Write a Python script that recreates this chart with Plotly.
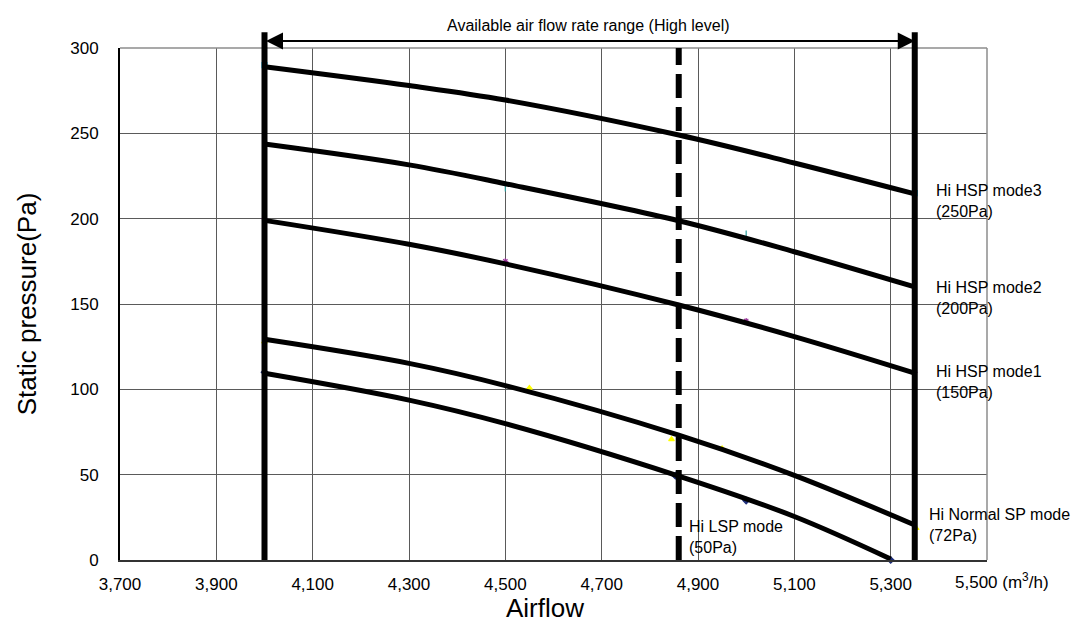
import plotly.graph_objects as go

# Fan curves: airflow (m3/h) vs external static pressure (Pa)
mode3_x = [4000, 4300, 4500, 4860, 5100, 5350]
mode3_y = [289, 278, 269.5, 249, 232.6, 214.5]

mode2_x = [4000, 4300, 4500, 4860, 5100, 5350]
mode2_y = [243.7, 231.5, 220.5, 198.8, 180.6, 160]

mode1_x = [4000, 4300, 4500, 4860, 5100, 5350]
mode1_y = [199, 185, 173.5, 149.4, 130.9, 109.5]

normal_x = [4000, 4300, 4500, 4860, 5100, 5350]
normal_y = [129.3, 115.2, 102.2, 73.2, 49.6, 20.5]

lsp_x = [4000, 4300, 4500, 4860, 5100, 5300]
lsp_y = [109.4, 93.7, 79.9, 49.2, 25.5, 0.6]

# Measured points
mode3_pts_x = [4000, 5350]
mode3_pts_y = [290, 215]
mode2_pts_x = [4000, 4500, 4860, 5000, 5350]
mode2_pts_y = [245, 218, 200, 191, 160]
mode1_pts_x = [4000, 4500, 4860, 5000, 5350]
mode1_pts_y = [200, 175, 149, 140, 110]
normal_pts_x = [4000, 4550, 4845, 4950, 5353]
normal_pts_y = [128, 100.8, 70.7, 65.4, 18.6]
lsp_pts_x = [4000, 4853, 5000, 5300]
lsp_pts_y = [110, 49.4, 34.8, 0]

# Operating range and reference airflow
range_min, range_max = 4000, 5350
ref_airflow = 4860

x_ticks = [3700, 3900, 4100, 4300, 4500, 4700, 4900, 5100, 5300, 5500]
x_tick_text = ["3,700", "3,900", "4,100", "4,300", "4,500", "4,700", "4,900", "5,100", "5,300", ""]
last_tick_text = "5,500 (m<sup>3</sup>/h)"
y_ticks = [0, 50, 100, 150, 200, 250, 300]

curve_labels = [
    ("Hi HSP mode3<br>(250Pa)", 5389, 210.5),
    ("Hi HSP mode2<br>(200Pa)", 5389, 153.8),
    ("Hi HSP mode1<br>(150Pa)", 5389, 104.3),
    ("Hi Normal SP mode<br>(72Pa)", 5376, 20.5),
    ("Hi LSP mode<br>(50Pa)", 4878, 13.5),
]

FONT = "Liberation Sans, Arial, sans-serif"

fig = go.Figure()

# point markers (under the curves)
pts = [
    (mode3_pts_x, mode3_pts_y, "#33CCFF", "square"),
    (mode2_pts_x, mode2_pts_y, "#2A9D9D", "line-ns"),
    (mode1_pts_x, mode1_pts_y, "#993399", "asterisk"),
    (normal_pts_x, normal_pts_y, "#FFFF00", "triangle-up"),
    (lsp_pts_x, lsp_pts_y, "#1F2F7A", "diamond"),
]
for px, py, col, sym in pts:
    fig.add_trace(go.Scatter(
        x=px, y=py, mode="markers",
        marker=dict(color=col, size=5, symbol=sym, line=dict(color=col, width=1.2)),
        showlegend=False, hoverinfo="skip", cliponaxis=False,
    ))

for cx, cy in [(mode3_x, mode3_y), (mode2_x, mode2_y), (mode1_x, mode1_y),
               (normal_x, normal_y), (lsp_x, lsp_y)]:
    fig.add_trace(go.Scatter(
        x=cx, y=cy, mode="lines",
        line=dict(color="black", width=5, shape="spline", smoothing=1),
        showlegend=False, hoverinfo="skip",
    ))

shapes = [
    # plot frame top/right
    dict(type="line", xref="paper", yref="paper", x0=0, x1=1, y0=1, y1=1,
         line=dict(color="#8c8c8c", width=1.5)),
    dict(type="line", xref="paper", yref="paper", x0=1, x1=1, y0=0, y1=1,
         line=dict(color="#8c8c8c", width=1.5)),
    # available range limits
    dict(type="line", xref="x", yref="paper", x0=range_min, x1=range_min, y0=0, y1=1.031,
         line=dict(color="black", width=6)),
    dict(type="line", xref="x", yref="paper", x0=range_max, x1=range_max, y0=0, y1=1.031,
         line=dict(color="black", width=6)),
    # reference airflow
    dict(type="line", xref="x", yref="paper", x0=ref_airflow, x1=ref_airflow, y0=0, y1=1,
         line=dict(color="black", width=6, dash="24px,9px")),
]

annotations = [
    dict(x=range_max, y=1.0137, xref="x", yref="paper",
         ax=range_min, ay=0, axref="x", ayref="pixel",
         showarrow=True, arrowside="end+start", arrowhead=2, arrowsize=1.7,
         arrowwidth=2, arrowcolor="black", text=""),
    dict(x=4673, y=1.043, xref="x", yref="paper", text="Available air flow rate range (High level)",
         showarrow=False, font=dict(family=FONT, size=16, color="black"),
         xanchor="center", yanchor="middle"),
    dict(x=0.961, y=-0.041, xref="paper", yref="paper", text=last_tick_text,
         showarrow=False, font=dict(family=FONT, size=17, color="black"),
         xanchor="left", yanchor="middle"),
    dict(x=-0.107, y=0.5, xref="paper", yref="paper", text="Static pressure(Pa)",
         textangle=-90, showarrow=False, font=dict(family=FONT, size=26, color="black"),
         xanchor="center", yanchor="middle"),
    dict(x=0.49, y=-0.094, xref="paper", yref="paper", text="Airflow",
         showarrow=False, font=dict(family=FONT, size=26, color="black"),
         xanchor="center", yanchor="middle"),
]
for txt, lx, ly in curve_labels:
    annotations.append(dict(
        x=lx, y=ly, xref="x", yref="y", text=txt, showarrow=False, align="left",
        xanchor="left", yanchor="middle", font=dict(family=FONT, size=16, color="black"),
    ))

fig.update_layout(
    width=1072, height=630,
    margin=dict(l=120, r=85, t=48, b=70),
    paper_bgcolor="white", plot_bgcolor="white",
    shapes=shapes, annotations=annotations,
    font=dict(family=FONT, size=17, color="black"),
    xaxis=dict(
        range=[3700, 5500], tickvals=x_ticks, ticktext=x_tick_text,
        showgrid=True, gridcolor="#5a5a5a", gridwidth=1,
        showline=True, linecolor="#333333", linewidth=2,
        zeroline=False, ticks="", ticklabelstandoff=8,
        tickfont=dict(family=FONT, size=17, color="black"),
    ),
    yaxis=dict(
        range=[0, 300], tickvals=y_ticks,
        showgrid=True, gridcolor="#5a5a5a", gridwidth=1,
        showline=True, linecolor="black", linewidth=2,
        zeroline=False, ticks="", ticklabelstandoff=16,
        tickfont=dict(family=FONT, size=17, color="black"),
    ),
)

fig.write_html("out.html")
